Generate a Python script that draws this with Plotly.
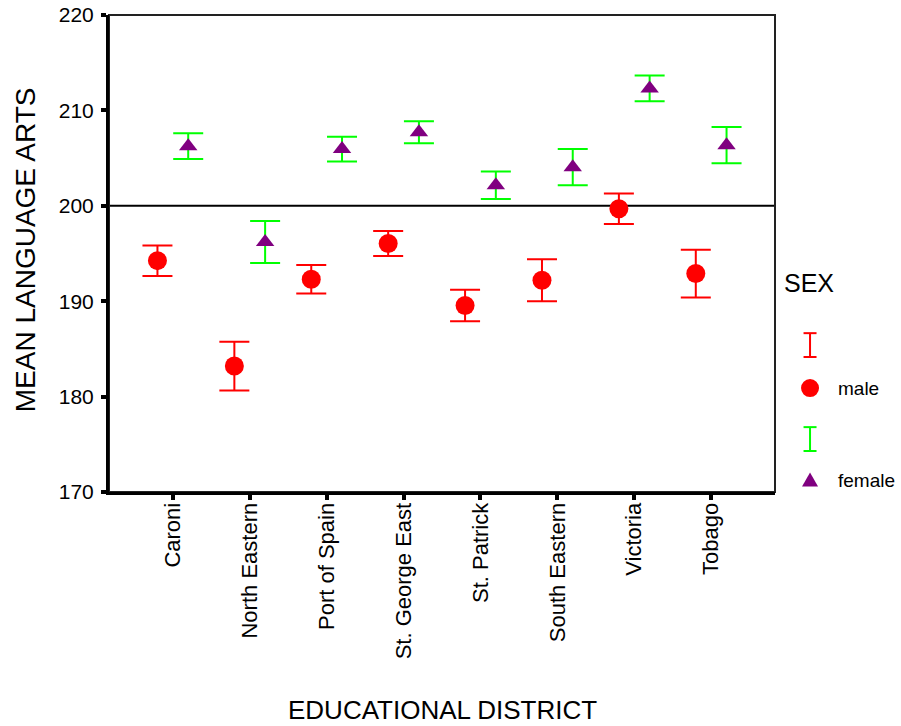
import plotly.graph_objects as go

# Educational districts and mean Language Arts scores by sex
districts = ["Caroni", "North Eastern", "Port of Spain", "St. George East",
             "St. Patrick", "South Eastern", "Victoria", "Tobago"]
male_mean = [194.25, 183.2, 192.3, 196.05, 189.55, 192.2, 199.7, 192.9]
male_err = [1.6, 2.55, 1.5, 1.3, 1.65, 2.2, 1.6, 2.5]
female_mean = [206.25, 196.2, 205.95, 207.7, 202.15, 204.05, 212.3, 206.35]
female_err = [1.35, 2.2, 1.3, 1.15, 1.45, 1.9, 1.35, 1.9]
y_ticks = [170, 180, 190, 200, 210, 220]
reference_score = 200

FONT = "Liberation Sans, Arial, sans-serif"
RED = "#FF0000"
GREEN = "#00FF00"
PURPLE = "#800080"
offset = 0.2
pos = list(range(len(districts)))

fig = go.Figure()
fig.add_trace(go.Scatter(
    x=[p - offset for p in pos], y=male_mean, mode="markers", name="male",
    marker=dict(symbol="circle", size=19, color=RED),
    error_y=dict(type="data", array=male_err, color=RED, thickness=2, width=15),
    showlegend=False))
fig.add_trace(go.Scatter(
    x=[p + offset for p in pos], y=female_mean, mode="markers", name="female",
    marker=dict(symbol="triangle-up", size=16, color=PURPLE),
    error_y=dict(type="data", array=female_err, color=GREEN, thickness=2, width=15),
    showlegend=False))

shapes = [
    # reference line
    dict(type="line", xref="paper", yref="y", x0=0, x1=1, y0=reference_score, y1=reference_score,
         line=dict(color="black", width=2), layer="below"),
    # frame on top/right
    dict(type="rect", xref="paper", yref="paper", x0=0, x1=1, y0=0, y1=1,
         line=dict(color="#222", width=2), layer="below"),
]

# legend drawn by hand: error-bar glyph + marker glyph for each sex
lx = 1.0526
cap = 6.5 / 666
def ibar(y_top, y_bot, color):
    return [
        dict(type="line", xref="paper", yref="paper", x0=lx, x1=lx, y0=y_bot, y1=y_top,
             line=dict(color=color, width=2)),
        dict(type="line", xref="paper", yref="paper", x0=lx - cap, x1=lx + cap, y0=y_top, y1=y_top,
             line=dict(color=color, width=2)),
        dict(type="line", xref="paper", yref="paper", x0=lx - cap, x1=lx + cap, y0=y_bot, y1=y_bot,
             line=dict(color=color, width=2)),
    ]
shapes += ibar(0.333, 0.283, RED)
shapes += ibar(0.136, 0.086, GREEN)
shapes.append(dict(type="circle", xref="paper", yref="paper", xsizemode="pixel", ysizemode="pixel",
                   xanchor=lx, yanchor=0.218, x0=-9, x1=9, y0=-9, y1=9,
                   fillcolor=RED, line=dict(width=0)))
shapes.append(dict(type="path", xref="paper", yref="paper", xsizemode="pixel", ysizemode="pixel",
                   xanchor=lx, yanchor=0.025, path="M-8,-6.5 L8,-6.5 L0,7.5 Z",
                   fillcolor=PURPLE, line=dict(width=0)))

annotations = [
    dict(text="EDUCATIONAL DISTRICT", xref="paper", yref="paper", x=0.5, y=-0.457,
         showarrow=False, font=dict(family=FONT, size=26, color="black"),
         xanchor="center", yanchor="middle"),
    dict(text="MEAN LANGUAGE ARTS", xref="paper", yref="paper", x=-0.126, y=0.507,
         showarrow=False, textangle=-90, font=dict(family=FONT, size=28, color="black"),
         xanchor="center", yanchor="middle"),
    dict(text="SEX", xref="paper", yref="paper", x=1.011, y=0.438, showarrow=False,
         font=dict(family=FONT, size=25, color="black"), xanchor="left", yanchor="middle"),
    dict(text="male", xref="paper", yref="paper", x=1.0916, y=0.218, showarrow=False,
         font=dict(family=FONT, size=19, color="black"), xanchor="left", yanchor="middle"),
    dict(text="female", xref="paper", yref="paper", x=1.0916, y=0.025, showarrow=False,
         font=dict(family=FONT, size=19, color="black"), xanchor="left", yanchor="middle"),
]

fig.update_layout(
    width=901, height=726,
    margin=dict(l=109, r=126, t=15, b=234),
    paper_bgcolor="white", plot_bgcolor="white",
    font=dict(family=FONT, color="black"),
    shapes=shapes, annotations=annotations,
    showlegend=False,
)
fig.update_xaxes(
    range=[-0.83, len(districts) - 1 + 0.83],
    tickvals=pos, ticktext=districts, tickangle=-90,
    tickfont=dict(family=FONT, size=22, color="black"),
    showline=True, linecolor="black", linewidth=3,
    ticks="outside", ticklen=5, tickwidth=4, tickcolor="black",
    ticklabelstandoff=-6, automargin=False,
    showgrid=False, zeroline=False,
)
fig.update_yaxes(
    range=[170, 220], tickvals=y_ticks,
    tickfont=dict(family=FONT, size=21, color="black"),
    showline=True, linecolor="black", linewidth=3,
    ticks="outside", ticklen=5, tickwidth=4, tickcolor="black",
    ticklabelstandoff=3, automargin=False,
    showgrid=False, zeroline=False,
)

fig.write_html("out.html")
